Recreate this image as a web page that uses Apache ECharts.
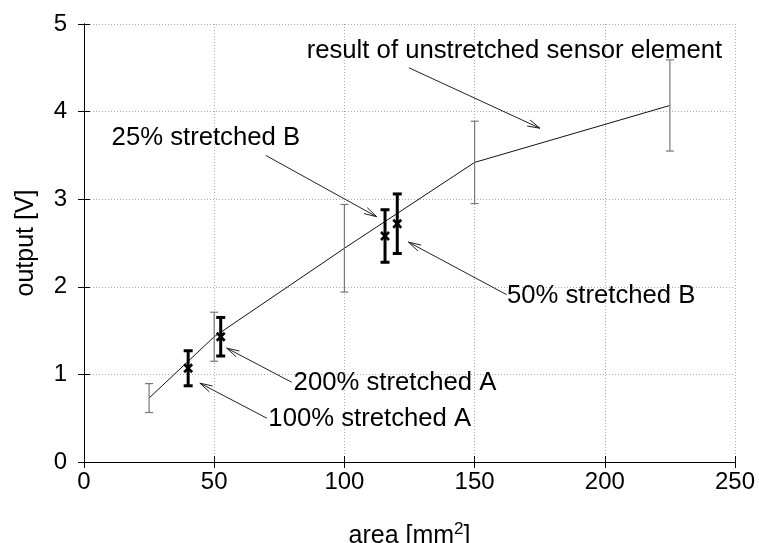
<!DOCTYPE html>
<html>
<head>
<meta charset="utf-8">
<script src="https://cdn.jsdelivr.net/npm/echarts@6/dist/echarts.min.js"></script>
<style>html,body{margin:0;padding:0;background:#fff}#c{width:759px;height:543px}</style>
</head>
<body>
<div id="c"></div>
<script>
// ---- data ----
const areaMain = [25, 50, 100, 150, 225];
const outputMain = [0.73, 1.43, 2.44, 3.42, 4.07];
const errMain = [0.165, 0.28, 0.5, 0.47, 0.52];

const areaStretched = [40, 52.5, 115.6, 120.3];
const outputStretched = [1.07, 1.43, 2.58, 2.72];
const errStretched = [0.2, 0.22, 0.3, 0.34];

const annoTexts = ['result of unstretched sensor element', '25% stretched B', '50% stretched B', '200% stretched A', '100% stretched A'];
const annoTextAt = [[85.5, 4.69], [10.6, 3.70], [162.4, 1.90], [80.5, 0.90], [70.8, 0.49]];
const arrowFrom = [[124.8, 4.50], [69.8, 3.50], [162.3, 1.91], [79.8, 0.91], [70.2, 0.50]];
const arrowTo = [[175.1, 3.81], [112.4, 2.80], [124.6, 2.51], [54.8, 1.30], [44.5, 0.90]];

const xMin = 0, xMax = 250, xStep = 50;
const yMin = 0, yMax = 5, yStep = 1;

// ---- build ----
const FONT = 'Liberation Sans, Arial, sans-serif';
const mainData = areaMain.map((x, i) => [x, outputMain[i]]);
const mainErr = areaMain.map((x, i) => [x, outputMain[i] - errMain[i], outputMain[i] + errMain[i]]);
const strErr = areaStretched.map((x, i) => [x, outputStretched[i] - errStretched[i], outputStretched[i] + errStretched[i]]);
const strPts = areaStretched.map((x, i) => [x, outputStretched[i]]);
const annoData = annoTexts.map((t, i) => [annoTextAt[i][0], annoTextAt[i][1], i]);
const arrowData = arrowFrom.map((f, i) => [f[0], f[1], arrowTo[i][0], arrowTo[i][1]]);

function errRender(color, width, cap) {
  return function (params, api) {
    const x = api.value(0);
    const lo = api.coord([x, api.value(1)]);
    const hi = api.coord([x, api.value(2)]);
    const st = { stroke: color, lineWidth: width };
    return {
      type: 'group', children: [
        { type: 'line', shape: { x1: lo[0], y1: lo[1], x2: hi[0], y2: hi[1] }, style: st },
        { type: 'line', shape: { x1: lo[0] - cap, y1: lo[1], x2: lo[0] + cap, y2: lo[1] }, style: st },
        { type: 'line', shape: { x1: hi[0] - cap, y1: hi[1], x2: hi[0] + cap, y2: hi[1] }, style: st }
      ]
    };
  };
}

const axisCommon = {
  type: 'value',
  axisLine: { show: true, lineStyle: { color: '#000', width: 1 } },
  axisTick: { show: true, inside: true, length: 6, lineStyle: { color: '#000' } },
  splitLine: { show: false }
};

const option = {
  animation: false,
  backgroundColor: '#fff',
  grid: { left: 84, right: 24, top: 24, bottom: 81, containLabel: false, outerBoundsMode: 'none' },
  xAxis: [
    Object.assign({}, axisCommon, {
      min: xMin, max: xMax, interval: xStep, position: 'bottom',
      name: '{a|area [mm}{s|2}{a|]}', nameLocation: 'middle', nameGap: 59,
      nameTextStyle: {
        fontFamily: FONT, fontSize: 25, color: '#000',
        rich: {
          a: { fontFamily: FONT, fontSize: 25, color: '#000', lineHeight: 30 },
          s: { fontFamily: FONT, fontSize: 17, color: '#000', lineHeight: 30, verticalAlign: 'top', padding: [0, 0, 12, 0] }
        }
      },
      axisLabel: { margin: 8, fontFamily: FONT, fontSize: 24, color: '#000' },
      splitLine: { show: true, lineStyle: { color: '#aaa', type: [1, 2], width: 1 } }
    }),
    Object.assign({}, axisCommon, {
      min: xMin, max: xMax, interval: xStep, position: 'top',
      axisLabel: { show: false }
    })
  ],
  yAxis: [
    Object.assign({}, axisCommon, {
      min: yMin, max: yMax, interval: yStep, position: 'left',
      name: 'output [V]', nameLocation: 'middle', nameGap: 45,
      nameTextStyle: { fontFamily: FONT, fontSize: 25, color: '#000' },
      axisLabel: { margin: 17, fontFamily: FONT, fontSize: 24, color: '#000' },
      splitLine: { show: true, lineStyle: { color: '#aaa', type: [1, 2], width: 1 } }
    }),
    Object.assign({}, axisCommon, {
      min: yMin, max: yMax, interval: yStep, position: 'right',
      axisLabel: { show: false }
    })
  ],
  series: [
    {
      type: 'line', data: mainData, symbol: 'none', z: 3,
      lineStyle: { color: '#111', width: 1 }
    },
    {
      type: 'custom', data: mainErr, z: 4,
      renderItem: errRender('#777', 1.2, 4),
      encode: { x: 0, y: [1, 2] }
    },
    {
      type: 'custom', data: strErr, z: 5,
      renderItem: errRender('#000', 3, 4.5),
      encode: { x: 0, y: [1, 2] }
    },
    {
      type: 'custom', data: strPts, z: 6,
      renderItem: function (params, api) {
        const p = api.coord([api.value(0), api.value(1)]);
        const s = 4;
        const st = { stroke: '#000', lineWidth: 2.6 };
        return {
          type: 'group', children: [
            { type: 'line', shape: { x1: p[0] - s, y1: p[1] - s, x2: p[0] + s, y2: p[1] + s }, style: st },
            { type: 'line', shape: { x1: p[0] - s, y1: p[1] + s, x2: p[0] + s, y2: p[1] - s }, style: st }
          ]
        };
      },
      encode: { x: 0, y: 1 }
    },
    {
      type: 'custom', data: arrowData, z: 7,
      renderItem: function (params, api) {
        const a = api.coord([api.value(0), api.value(1)]);
        const b = api.coord([api.value(2), api.value(3)]);
        const ang = Math.atan2(b[1] - a[1], b[0] - a[0]);
        const L = 13, w = 0.26;
        const h1 = [b[0] - L * Math.cos(ang - w), b[1] - L * Math.sin(ang - w)];
        const h2 = [b[0] - L * Math.cos(ang + w), b[1] - L * Math.sin(ang + w)];
        const st = { stroke: '#222', lineWidth: 1 };
        return {
          type: 'group', children: [
            { type: 'line', shape: { x1: a[0], y1: a[1], x2: b[0], y2: b[1] }, style: st },
            { type: 'polyline', shape: { points: [h1, b, h2] }, style: Object.assign({ fill: null }, st) }
          ]
        };
      },
      encode: { x: [0, 2], y: [1, 3] }
    },
    {
      type: 'custom', data: annoData, z: 8,
      renderItem: function (params, api) {
        const p = api.coord([api.value(0), api.value(1)]);
        return {
          type: 'text', x: p[0], y: p[1],
          style: {
            text: annoTexts[api.value(2)], fill: '#000',
            font: '25.7px ' + FONT, align: 'left', verticalAlign: 'middle'
          }
        };
      },
      encode: { x: 0, y: 1 }
    }
  ]
};

const chart = echarts.init(document.getElementById('c'), null, { renderer: 'canvas' });
chart.setOption(option);
</script>
</body>
</html>
